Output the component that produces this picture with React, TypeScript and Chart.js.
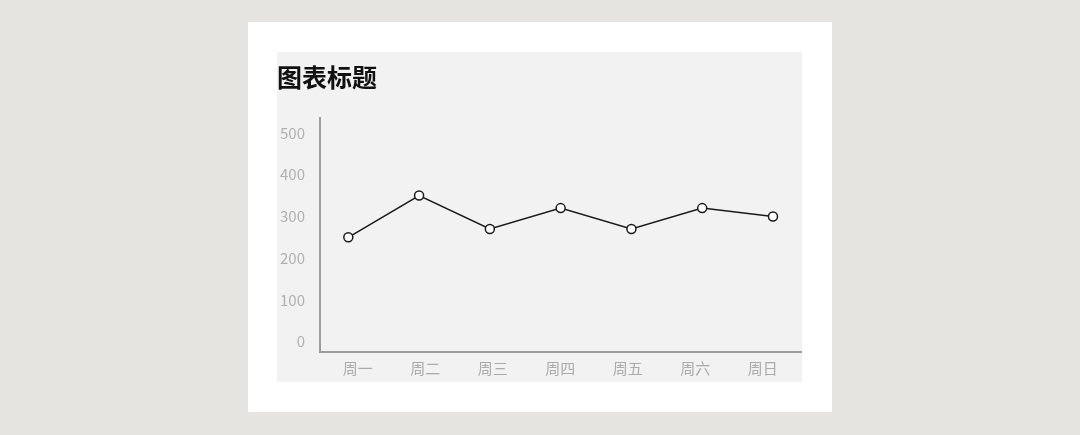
import { useEffect, useRef } from 'react';
import { Chart, ChartConfiguration, registerables } from 'chart.js';

Chart.register(...registerables);

// chart data
const days: string[] = ['周一', '周二', '周三', '周四', '周五', '周六', '周日'];
const values: number[] = [250, 350, 270, 320, 270, 320, 300];
const yTicks: number[] = [0, 100, 200, 300, 400, 500];
const chartTitle = '图表标题';

const FONT = '"Noto Sans CJK SC", "Noto Sans", sans-serif';

export default function App() {
    const canvasRef = useRef<HTMLCanvasElement | null>(null);
    const chartRef = useRef<Chart | null>(null);

    useEffect(() => {
        if (!canvasRef.current) return;

        const config: ChartConfiguration = {
            type: 'line',
            data: {
                datasets: [{
                    data: days.map((_, i) => ({ x: i, y: values[i] })),
                    xAxisID: 'x',
                    yAxisID: 'y',
                    borderColor: '#1a1a1a',
                    borderWidth: 1.5,
                    pointRadius: 4.5,
                    pointBorderWidth: 1.5,
                    pointBackgroundColor: '#ffffff',
                    pointBorderColor: '#1a1a1a',
                    tension: 0,
                }]
            },
            options: {
                animation: false,
                responsive: true,
                maintainAspectRatio: false,
                layout: { padding: 0, autoPadding: false },
                plugins: {
                    legend: { display: false },
                    tooltip: { enabled: false },
                    title: {
                        display: true,
                        text: chartTitle,
                        align: 'start',
                        color: '#111111',
                        font: { family: FONT, size: 25, weight: 'bold' },
                        padding: { top: 10, bottom: 26 },
                    },
                },
                scales: {
                    // data scale, not drawn
                    x: {
                        type: 'linear',
                        display: false,
                        min: -0.4,
                        max: 6.41,
                    },
                    // label scale, drawn under the plot
                    x2: {
                        type: 'linear',
                        position: 'bottom',
                        min: -0.56,
                        max: 6.58,
                        afterBuildTicks: (scale: any) => {
                            scale.ticks = days.map((_, i) => ({ value: i }));
                        },
                        afterFit: (scale: any) => { scale.height = 30; },
                        grid: { display: false, drawTicks: false },
                        border: { display: true, color: '#9c9c9c', width: 2 },
                        ticks: {
                            padding: 7,
                            color: '#ababab',
                            font: { family: FONT, size: 15 },
                            maxRotation: 0,
                            autoSkip: false,
                            callback: (v: any) => days[v] ?? '',
                        },
                    },
                    y: {
                        type: 'linear',
                        min: -25,
                        max: 536,
                        afterBuildTicks: (scale: any) => {
                            scale.ticks = yTicks.map(v => ({ value: v }));
                        },
                        afterFit: (scale: any) => { scale.width = 43; },
                        grid: { display: false, drawTicks: false },
                        border: { display: true, color: '#9c9c9c', width: 2 },
                        ticks: {
                            padding: 15,
                            color: '#b0b0b0',
                            font: { family: FONT, size: 15 },
                        },
                    },
                },
            },
        };

        chartRef.current = new Chart(canvasRef.current, config);

        return () => {
            if (chartRef.current) {
                chartRef.current.destroy();
                chartRef.current = null;
            }
        };
    }, []);

    return (
        <div style={{ position: 'fixed', inset: 0, background: '#e5e4e0' }}>
            <div style={{ position: 'absolute', left: 248, top: 22, width: 584, height: 390, background: '#ffffff' }} />
            <div style={{ position: 'absolute', left: 277, top: 52, width: 525, height: 330, background: '#f2f2f2' }}>
                <canvas ref={canvasRef}></canvas>
            </div>
        </div>
    );
}
